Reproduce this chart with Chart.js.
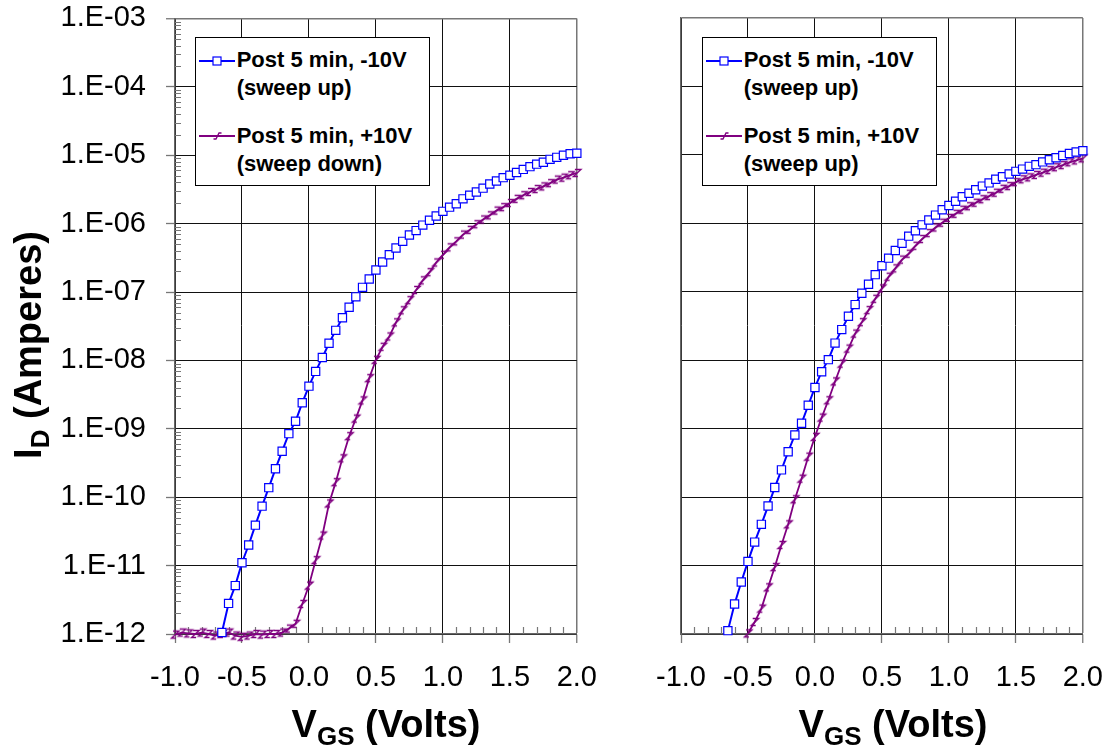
<!DOCTYPE html>
<html><head><meta charset="utf-8">
<script src="https://cdn.jsdelivr.net/npm/chart.js@4.4.1/dist/chart.umd.min.js"></script>
<style>
html,body{margin:0;padding:0;background:#fff;}
#wrap{position:relative;width:1110px;height:750px;overflow:hidden;font-family:"Liberation Sans",Arial,sans-serif;}
canvas{position:absolute;}
.title{position:absolute;font-weight:bold;font-size:38px;line-height:40px;height:40px;white-space:nowrap;text-align:center;color:#000;}
.title sub{font-size:26px;vertical-align:-8px;line-height:0;}
.legend{position:absolute;top:37px;width:235px;height:149px;box-sizing:border-box;border:1px solid #000;background:#fff;}
.lt{position:absolute;left:40.7px;font-weight:bold;font-size:22px;line-height:28px;white-space:nowrap;color:#000;}
.sym{position:absolute;left:3.3px;width:36px;height:14px;}
</style></head>
<body><div id="wrap">
<canvas id="c1" width="615" height="769" style="left:0;top:-19px"></canvas>
<canvas id="c2" width="521" height="750" style="left:600px;top:0"></canvas>
<div class="title" style="left:236px;top:703.5px;width:300px">V<sub>GS</sub> (Volts)</div>
<div class="title" style="left:743px;top:703.5px;width:300px">V<sub>GS</sub> (Volts)</div>
<div class="title" style="left:-122px;top:324.5px;width:300px;transform:rotate(-90deg)">I<sub>D</sub> (Amperes)</div>
</div>
<script>
const BLUE = '#0000FF';
const PURPLE = '#800080';
const FONT = '"Liberation Sans", Arial, sans-serif';

const vgs = [-1.00,-0.95,-0.90,-0.85,-0.80,-0.75,-0.70,-0.65,-0.60,-0.55,-0.50,-0.45,-0.40,-0.35,-0.30,-0.25,-0.20,-0.15,-0.10,-0.05,
  0.00,0.05,0.10,0.15,0.20,0.25,0.30,0.35,0.40,0.45,0.50,0.55,0.60,0.65,0.70,0.75,0.80,0.85,0.90,0.95,
  1.00,1.05,1.10,1.15,1.20,1.25,1.30,1.35,1.40,1.45,1.50,1.55,1.60,1.65,1.70,1.75,1.80,1.85,1.90,1.95,2.00];

const leftBlue = [null,null,null,null,null,null,null,
  1.05e-12,2.8e-12,5.1e-12,1.1e-11,2.0e-11,3.9e-11,7.4e-11,1.38e-10,2.6e-10,4.7e-10,8.5e-10,1.29e-9,2.4e-9,4.2e-9,6.9e-9,
  1.1e-8,1.78e-8,2.75e-8,4.2e-8,6.0e-8,8.5e-8,1.17e-7,1.55e-7,2.1e-7,2.75e-7,3.5e-7,4.4e-7,5.5e-7,6.8e-7,7.9e-7,9.5e-7,
  1.12e-6,1.29e-6,1.51e-6,1.74e-6,1.95e-6,2.3e-6,2.6e-6,2.9e-6,3.3e-6,3.8e-6,4.2e-6,4.7e-6,5.1e-6,5.6e-6,6.2e-6,6.8e-6,
  7.4e-6,7.9e-6,8.7e-6,9.3e-6,1.0e-5,1.05e-5,1.07e-5];

const leftPurple = [9.8e-13,1.05e-12,1.02e-12,1.0e-12,1.05e-12,1.0e-12,9.5e-13,1.0e-12,1.05e-12,9.5e-13,9.1e-13,9.5e-13,
  1.0e-12,9.8e-13,1.0e-12,1.0e-12,1.05e-12,1.2e-12,1.41e-12,2.75e-12,5.1e-12,1.2e-11,2.75e-11,8.1e-11,1.66e-10,3.7e-10,
  7.8e-10,1.41e-9,2.6e-9,5.5e-9,1.02e-8,1.58e-8,2.24e-8,3.6e-8,5.4e-8,7.6e-8,1.07e-7,1.48e-7,1.95e-7,2.7e-7,3.5e-7,4.5e-7,
  5.5e-7,6.9e-7,8.1e-7,9.8e-7,1.15e-6,1.32e-6,1.55e-6,1.74e-6,2.0e-6,2.3e-6,2.6e-6,2.9e-6,3.2e-6,3.5e-6,3.9e-6,4.4e-6,
  4.7e-6,5.1e-6,5.5e-6];

const rightBlue = [null,null,null,null,null,null,null,
  1.12e-12,2.75e-12,5.75e-12,1.15e-11,2.2e-11,4.0e-11,7.4e-11,1.38e-10,2.5e-10,4.6e-10,8.1e-10,1.2e-9,2.2e-9,4.0e-9,6.8e-9,
  1.02e-8,1.78e-8,2.8e-8,4.4e-8,6.5e-8,9.5e-8,1.29e-7,1.78e-7,2.4e-7,3.1e-7,4.0e-7,5.1e-7,6.5e-7,7.8e-7,9.5e-7,
  1.12e-6,1.32e-6,1.58e-6,1.82e-6,2.1e-6,2.45e-6,2.75e-6,3.1e-6,3.5e-6,3.9e-6,4.4e-6,4.8e-6,5.25e-6,5.75e-6,6.2e-6,6.8e-6,
  7.2e-6,7.9e-6,8.5e-6,9.1e-6,9.8e-6,1.05e-5,1.1e-5,1.15e-5];

const rightPurple = [null,null,null,null,null,null,null,null,null,null,
  1.02e-12,1.5e-12,2.35e-12,4.8e-12,9.5e-12,2.0e-11,4.0e-11,9.3e-11,1.86e-10,3.9e-10,7.6e-10,1.45e-9,2.6e-9,4.9e-9,8.9e-9,
  1.48e-8,2.45e-8,3.6e-8,5.4e-8,7.9e-8,1.12e-7,1.66e-7,2.2e-7,2.95e-7,3.6e-7,4.7e-7,5.9e-7,7.2e-7,8.7e-7,
  1.02e-6,1.2e-6,1.38e-6,1.58e-6,1.78e-6,2.0e-6,2.25e-6,2.5e-6,2.8e-6,3.2e-6,3.5e-6,4.0e-6,4.4e-6,4.7e-6,5.1e-6,5.5e-6,
  6.0e-6,6.6e-6,7.1e-6,7.8e-6,8.3e-6,8.9e-6];

const xTickValues = [-1.0,-0.5,0.0,0.5,1.0,1.5,2.0];
const xTickLabels = ['-1.0','-0.5','0.0','0.5','1.0','1.5','2.0'];
const xMinorTicks = [-0.9,-0.8,-0.7,-0.6,-0.4,-0.3,-0.2,-0.1,0.1,0.2,0.3,0.4,0.6,0.7,0.8,0.9,1.1,1.2,1.3,1.4,1.6,1.7,1.8,1.9];
const yTickValues = [1e-12,1e-11,1e-10,1e-9,1e-8,1e-7,1e-6,1e-5,1e-4,1e-3];
const yTickLabels = ['1.E-12','1.E-11','1.E-10','1.E-09','1.E-08','1.E-07','1.E-06','1.E-05','1.E-04','1.E-03'];

const leftLegend = [['Post 5 min, -10V','(sweep up)'],['Post 5 min, +10V','(sweep down)']];
const rightLegend = [['Post 5 min, -10V','(sweep up)'],['Post 5 min, +10V','(sweep up)']];

const purpleMarker = (() => {
  const c = document.createElement('canvas'); c.width = 14; c.height = 14;
  const g = c.getContext('2d'); g.strokeStyle = PURPLE; g.lineWidth = 1.4;
  g.beginPath(); g.moveTo(5,3.5); g.lineTo(11,3.5); g.lineTo(3.5,10.5); g.lineTo(8,10.5); g.stroke();
  return c;
})();

function points(vals){ const out=[]; vals.forEach((v,i)=>{ if(v!==null) out.push({x:vgs[i], y:v}); }); return out; }

const minorTicks = {
  id:'minorTicks',
  beforeDatasetsDraw(chart, args, o){
    const {ctx, chartArea:a, scales:{x,y}} = chart;
    ctx.save(); ctx.strokeStyle = '#777'; ctx.lineWidth = 1.2;
    ctx.beginPath();
    xMinorTicks.forEach(v => { const px = Math.round(x.getPixelForValue(v)) + 0.5; ctx.moveTo(px, a.bottom); ctx.lineTo(px, a.bottom - 7); });
    if (o.yMinor) {
      for (let e = -12; e < -3; e++) for (let m = 2; m <= 9; m++) {
        const py = Math.round(y.getPixelForValue(m * Math.pow(10, e))) + 0.5;
        ctx.moveTo(a.left, py); ctx.lineTo(a.left + 6, py);
      }
    }
    ctx.stroke(); ctx.restore();
  }
};

function makeChart(id, blue, purple, showY, yWidth, padTop){
  return new Chart(document.getElementById(id), {
    type:'line',
    data:{ datasets:[
      {data:points(blue), borderColor:BLUE, borderWidth:2, pointStyle:'rect', pointRadius:5.8,
       pointBackgroundColor:'#fff', pointBorderColor:BLUE, pointBorderWidth:1.2, clip:8, tension:0},
      {data:points(purple), borderColor:PURPLE, borderWidth:1.8, pointStyle:purpleMarker, pointRadius:5,
       clip:8, tension:0}
    ]},
    options:{
      responsive:false, animation:false, events:[],
      layout:{padding:{top:padTop, right:0, bottom:0, left:0}},
      plugins:{legend:{display:false}, tooltip:{enabled:false}, minorTicks:{yMinor:showY}},
      scales:{
        x:{type:'linear', min:-1, max:2,
          afterBuildTicks:s=>{ s.ticks = xTickValues.map(v=>({value:v})); },
          afterFit:s=>{ s.height = 116; },
          ticks:{callback:(v,i)=>xTickLabels[i], font:{family:FONT, size:29}, color:'#000', padding:18, maxRotation:0, autoSkip:false},
          grid:{color:c=>(c.tick && c.tick.value===2)?'#777':'#111', lineWidth:c=>(c.tick && c.tick.value===2)?1.5:1,
                drawTicks:true, tickLength:9, tickColor:'#777', tickWidth:1.3},
          border:{display:true, color:'#666', width:1.5}
        },
        y:{type:'logarithmic', min:1e-12, max:1e-3,
          afterBuildTicks:s=>{ s.ticks = yTickValues.map(v=>({value:v})); },
          afterFit:s=>{ s.width = yWidth; },
          ticks:{display:showY, callback:(v,i)=>yTickLabels[i], font:{family:FONT, size:29}, color:'#000', padding:20, autoSkip:false},
          grid:{color:c=>(c.tick && c.tick.value===1e-3)?'#777':'#111', lineWidth:c=>(c.tick && c.tick.value===1e-3)?1.5:1,
                drawTicks:showY, tickLength:9, tickColor:'#777', tickWidth:1.3},
          border:{display:true, color:'#666', width:1.5}
        }
      }
    },
    plugins:[minorTicks]
  });
}

makeChart('c1', leftBlue, leftPurple, true, 175, 0);
makeChart('c2', rightBlue, rightPurple, false, 81, 18);

function buildLegend(left, labels){
  const box = document.createElement('div'); box.className = 'legend'; box.style.left = left + 'px';
  const tops = [8.4, 83.7];
  const symTops = [15.7, 90.7];
  labels.forEach((lines, k) => {
    const t = document.createElement('div'); t.className = 'lt'; t.style.top = tops[k] + 'px';
    t.innerHTML = lines.map(s => s.replace(/&/g,'&amp;').replace(/</g,'&lt;')).join('<br>');
    box.appendChild(t);
    const ns = 'http://www.w3.org/2000/svg';
    const svg = document.createElementNS(ns, 'svg'); svg.setAttribute('class','sym');
    svg.setAttribute('width','36'); svg.setAttribute('height','14'); svg.style.top = symTops[k] + 'px';
    const ln = document.createElementNS(ns, 'line');
    ln.setAttribute('x1','0'); ln.setAttribute('y1','7'); ln.setAttribute('x2','36'); ln.setAttribute('y2','7');
    ln.setAttribute('stroke', k===0 ? BLUE : PURPLE); ln.setAttribute('stroke-width', k===0 ? '2' : '1.8');
    svg.appendChild(ln);
    if (k === 0) {
      const r = document.createElementNS(ns, 'rect');
      r.setAttribute('x','14'); r.setAttribute('y','3'); r.setAttribute('width','8'); r.setAttribute('height','8');
      r.setAttribute('fill','#fff'); r.setAttribute('stroke',BLUE); r.setAttribute('stroke-width','1.2');
      svg.appendChild(r);
    } else {
      const p = document.createElementNS(ns, 'path');
      p.setAttribute('d','M14.5 10 L17 10 L20 4 L22.5 4');
      p.setAttribute('fill','none'); p.setAttribute('stroke',PURPLE); p.setAttribute('stroke-width','1.3');
      svg.appendChild(p);
    }
    box.appendChild(svg);
  });
  document.getElementById('wrap').appendChild(box);
}
buildLegend(195, leftLegend);
buildLegend(702, rightLegend);
</script>
</body></html>
